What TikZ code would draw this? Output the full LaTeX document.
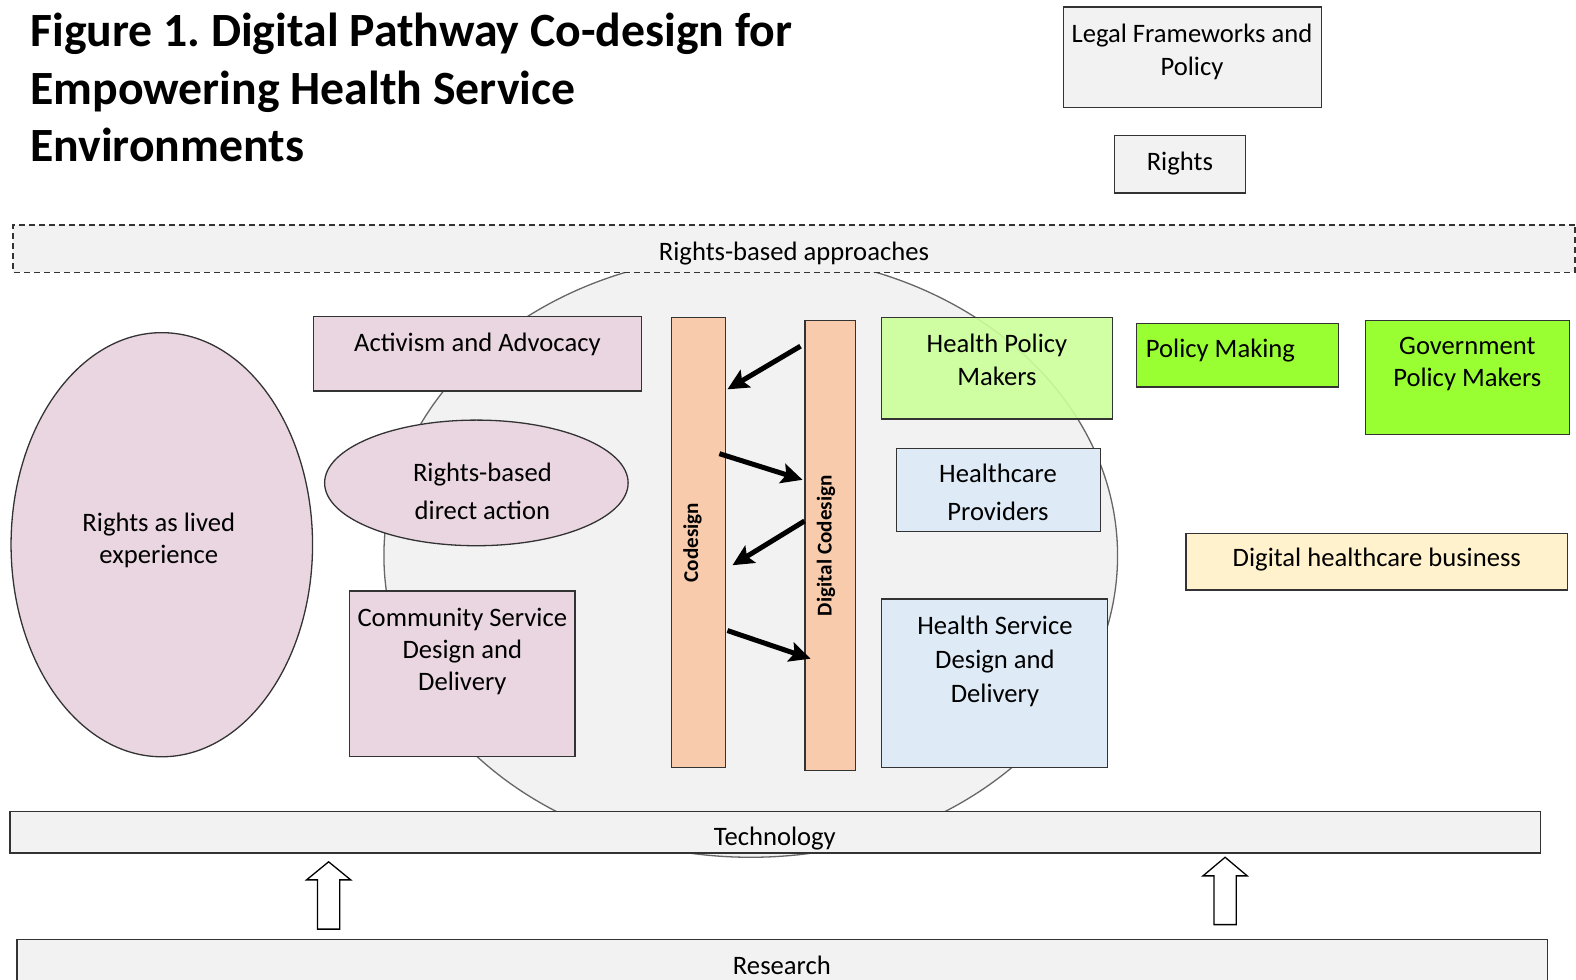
\documentclass[tikz,border=0pt]{standalone}
\usepackage{fontspec}
\setmainfont{Carlito}
\frenchspacing
\usetikzlibrary{arrows.meta,calc,shapes.geometric}
\definecolor{greyf}{HTML}{F2F2F2}
\definecolor{pinkf}{HTML}{EAD6E1}
\definecolor{orangef}{HTML}{F8CBAD}
\definecolor{lgreen}{HTML}{CCFF99}
\definecolor{bgreen}{HTML}{99FF33}
\definecolor{bluef}{HTML}{DEEBF7}
\definecolor{yellowf}{HTML}{FFF2CC}
\definecolor{edge}{HTML}{333333}
\definecolor{circedge}{HTML}{666666}
\tikzset{
  box/.style={draw=edge, line width=1.3bp, inner sep=0pt, rectangle},
  txt/.style={inner sep=0pt, align=center, yshift=-3bp, font=\fontsize{26.5bp}{32bp}\selectfont},
  txtwide/.style={txt, font=\fontsize{26.5bp}{38bp}\selectfont},
  vtxt/.style={inner sep=0pt, rotate=90, font=\fontsize{21bp}{25bp}\selectfont\bfseries},
  fatarrow/.style={line width=5bp, -{Stealth[length=21bp,width=20bp,inset=4bp]}},
  hollow/.style={draw=black, line width=1.3bp, fill=white},
}
\begin{document}
\begin{tikzpicture}[x=1bp,y=-1bp,scale=1.005,every node/.append style={transform shape}]
\useasboundingbox (0,0) rectangle (1568.16,975.12);
\fill[white] (0,0) rectangle (1568.16,975.12);

% title
\node[inner sep=0pt, anchor=west, align=left, font=\fontsize{47.5bp}{57bp}\selectfont\bfseries] (title) at (30,87)
  {Figure 1. Digital Pathway Co-design for\\Empowering Health Service\\Environments};

% big circle
\node[draw=circedge, line width=1.3bp, fill=greyf, ellipse, inner sep=0pt,
  minimum width=730bp, minimum height=600bp] (circ) at (747,553) {};

% top boxes
\node[box, fill=greyf, minimum width=257bp, minimum height=100bp] (legal) at (1186.5,57) {};
\node[txt, font=\fontsize{26.5bp}{33bp}\selectfont] (legalt) at (1186,48.5) {Legal Frameworks and\\Policy};
\node[box, fill=greyf, minimum width=130bp, minimum height=57bp] (rights) at (1174,163.5) {};
\node[txt] (rightst) at (1174,160) {Rights};

% rights-based approaches
\node[draw=edge, line width=1.3bp, dash pattern=on 6bp off 4bp, fill=greyf, inner sep=0pt,
  minimum width=1554bp, minimum height=47bp] (rba) at (790,247.5) {};
\node[txt] (rbat) at (790,249) {Rights-based approaches};

% left side
\node[draw=edge, line width=1.3bp, fill=pinkf, ellipse, inner sep=0pt,
  minimum width=300bp, minimum height=422bp] (lived) at (161,542) {};
\node[txt] (livedt) at (158,535) {Rights as lived\\experience};
\node[box, fill=pinkf, minimum width=326bp, minimum height=74bp] (act) at (475,352) {};
\node[txt] (actt) at (475,340) {Activism and Advocacy};
\node[draw=edge, line width=1.3bp, fill=pinkf, ellipse, inner sep=0pt,
  minimum width=302bp, minimum height=125bp] (direct) at (474,480.5) {};
\node[txtwide] (directt) at (480,486) {Rights-based\\direct action};
\node[box, fill=pinkf, minimum width=224bp, minimum height=165bp] (comm) at (460,670.5) {};
\node[txt] (commt) at (460,645) {Community Service\\Design and\\Delivery};

% bars
\node[box, fill=orangef, minimum width=54bp, minimum height=448bp] (cod) at (695,540) {};
\node[vtxt] (codt) at (689,540) {Codesign};
\node[box, fill=orangef, minimum width=50bp, minimum height=448bp] (dig) at (826,543) {};
\node[vtxt] (digt) at (822,543) {Digital Codesign};

\draw[fatarrow] ($(dig.north west)+(-4,26)$) -- ($(cod.north east)+(1,72)$);
\draw[fatarrow] ($(cod.north east)+(-7,136)$) -- ($(dig.north west)+(-2,159)$);
\draw[fatarrow] ($(dig.north west)+(0,200)$) -- ($(cod.north east)+(6,247)$);
\draw[fatarrow] ($(cod.north east)+(1,312)$) -- ($(dig.north west)+(6,337)$);

% right side
\node[box, fill=lgreen, fill opacity=0.9, minimum width=230bp, minimum height=101bp] (hpm) at (992,366.5) {};
\node[txt, yshift=1bp] (hpmt) at (992,356) {Health Policy\\Makers};
\node[box, fill=bgreen, minimum width=201bp, minimum height=63bp] (pm) at (1231.5,353.5) {};
\node[txt, anchor=west] (pmt) at (1140,346) {Policy Making};
\node[box, fill=bgreen, minimum width=203bp, minimum height=113bp] (gpm) at (1460.5,375.5) {};
\node[txt] (gpmt) at (1460,359) {Government\\Policy Makers};
\node[box, fill=bluef, minimum width=203bp, minimum height=83bp] (hp) at (993.5,487.5) {};
\node[txtwide, yshift=2bp] (hpt) at (993,489) {Healthcare\\Providers};
\node[box, fill=yellowf, minimum width=380bp, minimum height=56bp] (dhb) at (1370,559) {};
\node[txt] (dhbt) at (1370,554) {Digital healthcare business};
\node[box, fill=bluef, minimum width=225bp, minimum height=168bp] (hsd) at (989.5,680) {};
\node[txt, font=\fontsize{26.5bp}{34bp}\selectfont] (hsdt) at (990,655) {Health Service\\Design and\\Delivery};

% bottom bars
\node[box, fill=greyf, minimum width=1523bp, minimum height=41.5bp] (tech) at (771.5,828) {};
\node[txt] (techt) at (771,831) {Technology};
\node[box, fill=greyf, minimum width=1523bp, minimum height=60bp] (res) at (778.5,965) {};
\node[txt] (rest) at (778,958) {Research};

% hollow block arrows
\draw[hollow] (316,924.5) -- (316,875.5) -- (305,875.5) -- (327,857.5) -- (349,875.5) -- (338,875.5) -- (338,924.5) -- cycle;
\draw[hollow] (1208,920) -- (1208,871.5) -- (1197,871.5) -- (1219,853) -- (1241,871.5) -- (1230,871.5) -- (1230,920) -- cycle;

\end{tikzpicture}
\end{document}
